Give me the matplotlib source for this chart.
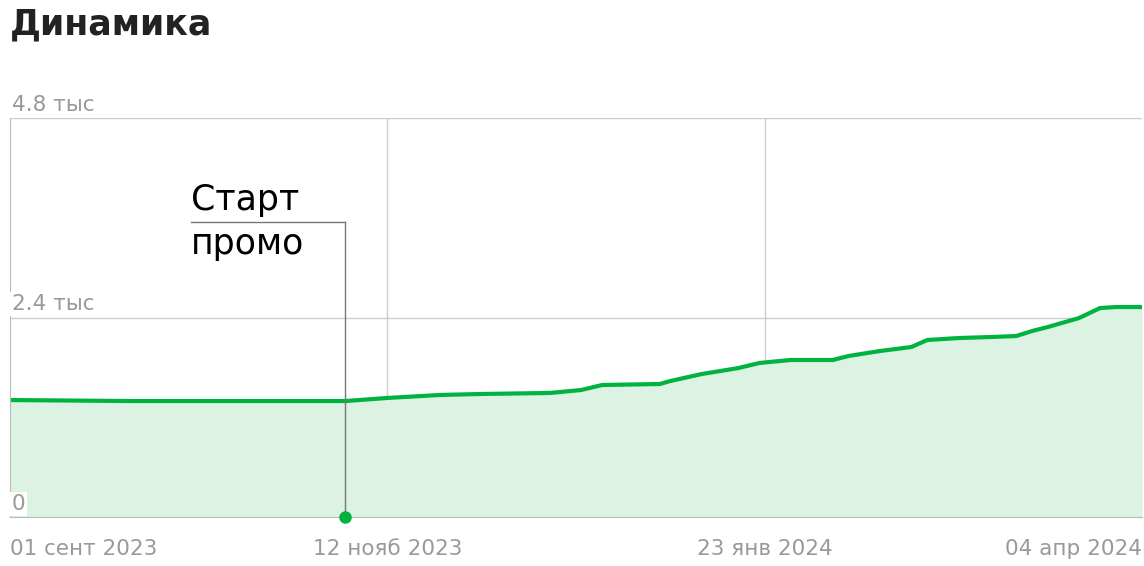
import matplotlib
matplotlib.use("Agg")
import matplotlib.pyplot as plt
import pandas as pd

dates = ["2023-09-01","2023-09-24","2023-11-04","2023-11-12","2023-11-22","2023-11-30",
         "2023-12-13","2023-12-19","2023-12-23","2024-01-03","2024-01-05","2024-01-11",
         "2024-01-18","2024-01-22","2024-01-28","2024-02-05","2024-02-08","2024-02-14",
         "2024-02-20","2024-02-23","2024-02-29","2024-03-06","2024-03-11","2024-03-14",
         "2024-03-17","2024-03-23","2024-03-27","2024-03-30","2024-04-04"]
values = [1407,1395,1395,1432,1468,1480,1492,1528,1588,1600,1636,1720,1792,1853,1889,
          1889,1937,1997,2045,2129,2153,2165,2177,2237,2285,2394,2514,2526,2526]
tick_dates = ["2023-09-01","2023-11-12","2024-01-23","2024-04-04"]
tick_labels = ["01 сент 2023","12 нояб 2023","23 янв 2024","04 апр 2024"]
y_ticks = [0, 2400, 4800]
y_labels = ["0", "2.4 тыс", "4.8 тыс"]
promo_date = "2023-11-04"
promo_lines = ["Старт", "промо"]

x = pd.to_datetime(dates)
green = "#00b341"
fig = plt.figure(figsize=(11.44, 5.66), dpi=100)
ax = fig.add_axes([10/1144, 1-517/566, 1132/1144, 399/566])
ax.fill_between(x, values, 0, color="#dcf2e3", lw=0)
ax.plot(x, values, color=green, lw=3, solid_capstyle="round")
ax.set_xlim(pd.Timestamp(tick_dates[0]), pd.Timestamp(tick_dates[-1]))
ax.set_ylim(0, 4800)
for s in ["top", "right"]:
    ax.spines[s].set_visible(False)
for s in ["left", "bottom"]:
    ax.spines[s].set_color("#bbbbbb")
ax.set_yticks([])
ax.set_xticks(pd.to_datetime(tick_dates))
ax.set_xticklabels(tick_labels, color="#999999", fontsize=15.5)
ax.tick_params(axis="x", length=0, pad=16)
lbls = ax.get_xticklabels()
lbls[0].set_ha("left"); lbls[-1].set_ha("right")
for t in pd.to_datetime(tick_dates[1:-1]):
    ax.axvline(t, color="#cccccc", lw=1, zorder=0.5)
for v in y_ticks[1:]:
    ax.axhline(v, color="#cccccc", lw=1, zorder=0.5)
for v, l in zip(y_ticks, y_labels):
    ax.text(pd.Timestamp(tick_dates[0]) + pd.Timedelta(days=0.3), v + 40, l, color="#999999",
            fontsize=15.5, va="bottom", ha="left",
            bbox=dict(facecolor="white", edgecolor="none", pad=1.5))
pd_ = pd.Timestamp(promo_date)
ytop = (517-222)/399*4800
xl = pd_ - pd.Timedelta(days=29.4)
ax.plot([pd_, pd_], [0, ytop], color="#777777", lw=1, clip_on=False)
ax.plot([xl, pd_], [ytop, ytop], color="#777777", lw=1)
ax.plot([pd_], [0], "o", color=green, ms=8, clip_on=False, zorder=5)
ax.text(xl, ytop + 60, promo_lines[0], fontsize=25, va="bottom", ha="left")
ax.text(xl, ytop - 60, promo_lines[1], fontsize=25, va="top", ha="left")
fig.text(10/1144, 1-24/566, "Динамика", fontsize=25, fontweight="bold",
         va="center", ha="left", color="#222222")
fig.savefig("out.png", dpi=100)
